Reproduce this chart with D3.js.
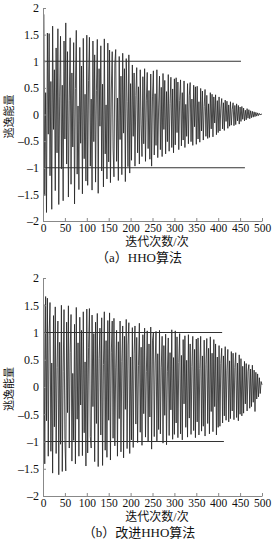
<!DOCTYPE html>
<html>
<head>
<meta charset="utf-8">
<script src="https://cdn.jsdelivr.net/npm/d3@7"></script>
<style>
  body { margin: 0; background: #fff; }
  svg text { font-family: "Liberation Serif", "Noto Sans CJK SC", serif; fill: #111; }
</style>
</head>
<body>
<div id="chart"></div>
<script>
// escape energy, one value every 2 iterations (t = 2, 4, ..., 500)
const hhoE = [
  1.88, -1.52, 0.41, -1.84, 1.53, -0.37, 1.52, -1.15, 0.62, -1.78, 1.66, -0.28, 0.84, -1.43, 1.25, -0.72, 1.61, -1.69, 0.33, 1.47, -1.02, 0.55, -1.62, 1.38, -0.46,
  1.72, -0.93, 1.18, -1.55, 0.27, 1.44, -1.31, 0.78, -0.61, 1.35, -1.68, 0.49, 1.58, -1.12, 0.16, -1.41, 1.26, -0.54, 0.91, -1.49, 1.43, -0.83, 0.38, -1.25, 1.49,
  -1.33, 0.64, 1.45, -0.97, 0.29, -1.42, 1.38, -0.51, 1.12, -1.27, 0.45, 1.41, -1.48, 0.86, -0.22, 1.29, -1.06, 0.57, -1.36, 1.42, -0.74, 0.18, -1.21, 1.34, -0.89,
  1.21, -1.28, 0.46, 1.18, -0.63, -1.17, 0.95, 1.22, -0.88, 0.31, -1.24, 1.09, -0.47, 0.72, -1.13, 1.15, -0.35, 0.86, -1.26, 1.05, 0.24, -0.98, 1.12, -1.1, 0.58,
  -0.86, 0.93, -0.41, 0.78, -0.97, 0.36, 0.88, -0.72, 0.52, -0.93, 0.84, -0.18, -0.79, 0.71, -0.55, 0.86, -0.88, 0.27, 0.79, -0.64, 0.45, -0.84, 0.76, -0.97, 0.33,
  0.82, -0.76, 0.39, -0.58, 0.84, -0.81, 0.14, 0.72, -0.66, 0.51, -0.79, 0.77, -0.28, 0.64, -0.74, 0.43, -0.51, 0.75, -0.69, 0.21, 0.7, -0.62, 0.48, -0.72, 0.67,
  -0.57, 0.69, -0.34, 0.61, -0.66, 0.26, 0.65, -0.59, 0.41, -0.48, 0.63, -0.62, 0.19, -0.41, 0.58, -0.55, 0.35, 0.6, -0.51, 0.29, -0.58, 0.55, -0.23, 0.52, -0.56,
  0.53, -0.46, 0.24, -0.52, 0.49, -0.31, 0.44, -0.48, 0.15, 0.47, -0.41, 0.36, -0.45, 0.2, -0.43, 0.41, -0.27, 0.38, -0.42, 0.33, -0.16, 0.37, -0.38, 0.26, -0.34,
  0.33, -0.31, 0.12, 0.3, -0.27, 0.22, -0.3, 0.27, -0.13, 0.25, -0.26, 0.18, -0.22, 0.24, -0.2, 0.09, 0.22, -0.21, 0.17, -0.19, 0.2, -0.12, 0.17, -0.18, 0.14,
  -0.13, 0.15, -0.09, 0.12, -0.12, 0.08, -0.1, 0.11, -0.07, 0.09, -0.08, 0.07, -0.06, 0.06, -0.05, 0.05, -0.04, 0.04, -0.03, 0.03, -0.02, 0.02, -0.01, 0.01, 0
];

const improvedE = [
  1.52, -1.41, 1.66, -0.62, 1.63, -1.27, 0.95, 1.55, -1.18, 0.44, -1.58, 1.31, -0.73, 1.47, -1.22, 0.36, 1.21, -1.61, 0.82, -1.05, 1.5, -1.55, 0.28, 1.42, -0.96,
  -1.54, 1.19, -0.47, 1.49, -1.12, 0.63, 1.33, -1.36, 0.25, -0.98, 1.15, -1.41, 1.46, -0.59, 0.81, -1.27, 1.28, -0.33, 1.04, -1.26, 1.38, -0.84, 0.46, -1.45, 1.43,
  -1.21, 0.72, 1.44, -0.91, -1.12, 1.32, -0.36, 0.98, -1.37, 1.19, -0.67, 1.35, -1.46, 0.52, 1.08, -0.88, 1.27, -1.44, 0.41, 1.38, -1.16, 0.85, -1.29, 1.22, -0.61,
  1.36, -1.34, 0.64, 1.21, -0.94, 1.26, -1.08, 0.35, 1.04, -1.27, 0.83, -0.58, 1.21, -1.19, 0.47, 1.12, -1.3, 0.93, -0.41, 1.24, -1.13, 0.77, 1.18, -1.22, 0.55,
  -0.97, 1.09, -1.11, 0.62, 1.12, -0.68, 0.91, -1.02, 0.39, 1.17, -0.83, 0.73, -1.07, 0.96, -0.49, 1.08, -0.92, 0.28, 1.03, -1.01, 0.79, -0.55, 1.1, -1.14, 0.86,
  0.99, -0.91, 0.44, 1.02, -0.99, 0.61, -0.78, 1.04, -0.86, 0.35, 0.93, -1.03, 0.76, -0.52, 0.97, -1.06, 0.29, 0.9, -0.89, 0.63, -0.42, 1.05, -0.96, 0.54, -0.87,
  1.03, -0.66, 0.92, -0.93, 0.45, 0.98, -0.86, 0.58, -0.97, 0.87, -0.31, 0.94, -0.74, 0.49, -0.92, 0.96, -0.57, 0.79, -0.87, 0.38, 0.93, -0.8, 0.69, -0.93, 0.88,
  -0.64, 0.9, -0.88, 0.34, 0.93, -0.81, 0.57, -0.72, 0.86, -0.9, 0.42, 0.89, -0.67, 0.71, -0.86, 0.92, -0.45, 0.62, -0.82, 0.87, -0.36, 0.79, -0.88, 0.55, -0.74,
  0.76, -0.72, 0.43, 0.71, -0.66, 0.57, -0.53, 0.74, -0.61, 0.31, 0.69, -0.64, 0.48, -0.58, 0.65, -0.44, 0.62, -0.6, 0.36, 0.63, -0.56, 0.44, -0.62, 0.59, -0.5,
  0.52, -0.53, 0.38, -0.48, 0.47, -0.31, 0.43, -0.44, 0.29, 0.41, -0.39, 0.33, -0.36, 0.4, -0.28, 0.31, -0.45, 0.27, -0.22, 0.24, -0.18, 0.17, -0.12, 0.1, 0.04
];

const iterStep = 2;
const yTicks = [-2, -1.5, -1, -0.5, 0, 0.5, 1, 1.5, 2];
const xTicks = [0, 50, 100, 150, 200, 250, 300, 350, 400, 450, 500];
const captions = ["（a）HHO算法", "（b）改进HHO算法"];
// reference lines at E = ±1 and the iteration where each one stops
const refLinesA = [{ e: 1, end: 452 }, { e: -1, end: 461 }];
const refLinesB = [{ e: 1, end: 409 }, { e: -1, end: 413 }];

const W = 275, H = 546;
const svg = d3.select("#chart").append("svg")
  .attr("width", W).attr("height", H);

const panels = [
  { data: hhoE, caption: captions[0], refs: refLinesA, top: 8, bottom: 221 },
  { data: improvedE, caption: captions[1], refs: refLinesB, top: 278, bottom: 496 }
];

const left = 43, right = 262;

panels.forEach(p => {
  const g = svg.append("g");

  const x = d3.scaleLinear().domain([0, 500]).range([left, right]);
  const y = d3.scaleLinear().domain([-2, 2]).range([p.bottom, p.top]);

  const line = d3.line()
    .x((d, i) => x((i + 1) * iterStep))
    .y(d => y(d));

  g.append("path")
    .datum(p.data)
    .attr("fill", "none")
    .attr("stroke", "#222")
    .attr("stroke-width", 0.8)
    .attr("d", line);

  // ±1 lines
  g.selectAll(".ref")
    .data(p.refs)
    .enter()
    .append("line")
      .attr("x1", x(0))
      .attr("x2", d => x(d.end))
      .attr("y1", d => y(d.e))
      .attr("y2", d => y(d.e))
      .attr("stroke", "#333")
      .attr("stroke-width", 1);

  // y axis
  g.append("g")
    .attr("transform", `translate(${left},0)`)
    .call(d3.axisLeft(y).tickValues(yTicks).tickSizeInner(-3).tickSizeOuter(0).tickPadding(4)
      .tickFormat(d => d < 0 ? "–" + Math.abs(d) : String(d)))
    .call(a => a.select(".domain").attr("stroke", "#888"))
    .call(a => a.selectAll(".tick line").attr("stroke", "#888"))
    .call(a => a.selectAll("text").attr("font-size", 12).attr("fill", "#111")
      .attr("font-family", "Liberation Serif"));

  // x axis
  g.append("g")
    .attr("transform", `translate(0,${p.bottom})`)
    .call(d3.axisBottom(x).tickValues(xTicks).tickSizeInner(-3).tickSizeOuter(0).tickPadding(3))
    .call(a => a.select(".domain").attr("stroke", "#888"))
    .call(a => a.selectAll(".tick line").attr("stroke", "#888"))
    .call(a => a.selectAll("text").attr("font-size", 11.5).attr("fill", "#111")
      .attr("font-family", "Liberation Serif"));

  // y title
  const midY = (p.top + p.bottom) / 2;
  g.append("text")
    .attr("transform", `translate(9,${midY + 2}) rotate(-90)`)
    .attr("text-anchor", "middle")
    .attr("dominant-baseline", "central")
    .attr("font-size", 11)
    .attr("font-family", "Noto Sans CJK SC")
    .text("逃逸能量");

  // x title
  g.append("text")
    .attr("x", 157)
    .attr("y", p.bottom + 25)
    .attr("text-anchor", "middle")
    .attr("font-size", 12)
    .text("迭代次数/次");

  // caption
  g.append("text")
    .attr("x", 139)
    .attr("y", p.bottom + 41)
    .attr("text-anchor", "middle")
    .attr("font-size", 13)
    .text(p.caption);
});
</script>
</body>
</html>
